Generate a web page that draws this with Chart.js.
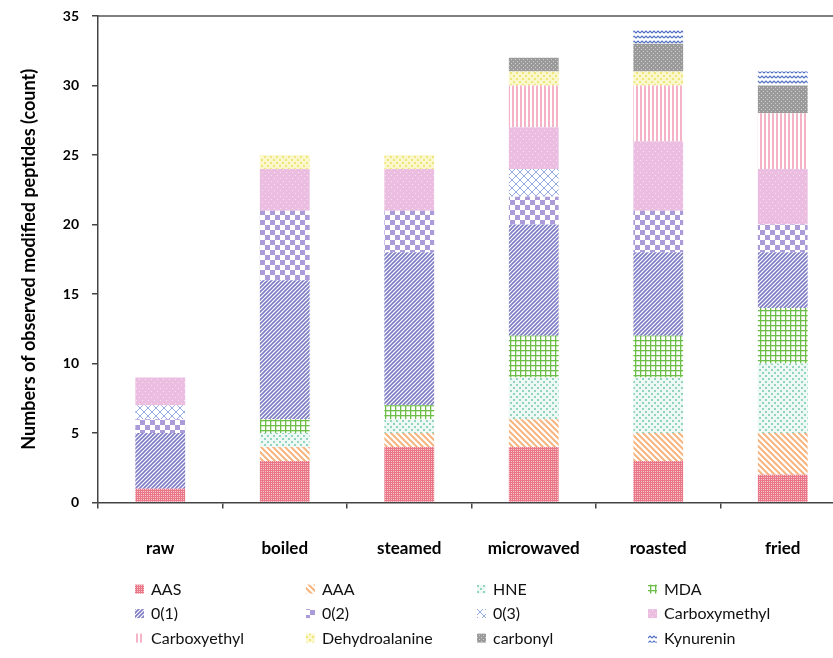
<!DOCTYPE html>
<html>
<head>
<meta charset="utf-8">
<script src="https://cdn.jsdelivr.net/npm/chart.js@4"></script>
<style>
  html, body { margin: 0; padding: 0; background: #fff; overflow: hidden; }
  #wrap { width: 833px; height: 658px; overflow: hidden; }
</style>
</head>
<body>
<div id="wrap"><canvas id="chart" width="845" height="658"></canvas></div>
<script>
const categories = ['raw', 'boiled', 'steamed', 'microwaved', 'roasted', 'fried']

const seriesNames = ['AAS', 'AAA', 'HNE', 'MDA', '0(1)', '0(2)', '0(3)', 'Carboxymethyl',
  'Carboxyethyl', 'Dehydroalanine', 'carbonyl', 'Kynurenin']

const aas = [1, 3, 4, 4, 3, 2]
const aaa = [0, 1, 1, 2, 2, 3]
const hne = [0, 1, 1, 3, 4, 5]
const mda = [0, 1, 1, 3, 3, 4]
const o1 = [4, 10, 11, 8, 6, 4]
const o2 = [1, 5, 3, 2, 3, 2]
const o3 = [1, 0, 0, 2, 0, 0]
const carboxymethyl = [2, 3, 3, 3, 5, 4]
const carboxyethyl = [0, 0, 0, 3, 4, 4]
const dehydroalanine = [0, 1, 1, 1, 1, 0]
const carbonyl = [0, 0, 0, 1, 2, 2]
const kynurenin = [0, 0, 0, 0, 1, 1]

const seriesValues = [aas, aaa, hne, mda, o1, o2, o3, carboxymethyl,
  carboxyethyl, dehydroalanine, carbonyl, kynurenin]

const yTicks = [0, 5, 10, 15, 20, 25, 30, 35]

const FONT = 'Lato, "Liberation Sans", sans-serif'

// small tiles used as bar fills
function tile(w, h, draw) {
  const c = document.createElement('canvas')
  c.width = w
  c.height = h
  const g = c.getContext('2d')
  draw(g, w, h)
  return g.createPattern(c, 'repeat')
}

function dots(g, color, pts) {
  g.fillStyle = color
  pts.forEach(p => g.fillRect(p[0], p[1], p[2] || 1, p[3] || 1))
}

const patterns = [
  // AAS
  tile(4, 4, (g) => {
    g.fillStyle = '#ea7787'; g.fillRect(0, 0, 4, 4)
    dots(g, '#f7c4cc', [[1, 1], [3, 3], [3, 1], [1, 3]])
  }),
  // AAA
  tile(6, 6, (g) => {
    g.fillStyle = '#fff'; g.fillRect(0, 0, 6, 6)
    g.strokeStyle = '#f6b47f'; g.lineWidth = 2
    g.beginPath()
    g.moveTo(-1, -1); g.lineTo(7, 7)
    g.moveTo(-4, 2); g.lineTo(4, 10)
    g.moveTo(2, -4); g.lineTo(10, 4)
    g.stroke()
  }),
  // HNE
  tile(6, 6, (g) => {
    g.fillStyle = '#eef8f4'; g.fillRect(0, 0, 6, 6)
    dots(g, '#93d4bf', [[0, 0, 2, 2], [3, 3, 2, 2]])
  }),
  // MDA
  tile(5, 5, (g) => {
    g.fillStyle = '#fff'; g.fillRect(0, 0, 5, 5)
    g.fillStyle = '#6dbd49'
    g.fillRect(0, 0, 5, 1.3)
    g.fillRect(0, 0, 1.3, 5)
  }),
  // 0(1)
  tile(4, 4, (g) => {
    g.fillStyle = '#fff'; g.fillRect(0, 0, 4, 4)
    g.strokeStyle = '#7d7bc4'; g.lineWidth = 1.6
    g.beginPath()
    g.moveTo(-1, 5); g.lineTo(5, -1)
    g.moveTo(-1, 1); g.lineTo(1, -1)
    g.moveTo(3, 5); g.lineTo(5, 3)
    g.stroke()
  }),
  // 0(2)
  tile(10, 10, (g) => {
    g.fillStyle = '#fff'; g.fillRect(0, 0, 10, 10)
    g.fillStyle = '#ab9bd9'
    g.fillRect(0, 0, 5, 5); g.fillRect(5, 5, 5, 5)
  }),
  // 0(3)
  tile(8, 8, (g) => {
    g.fillStyle = '#fff'; g.fillRect(0, 0, 8, 8)
    g.strokeStyle = '#97acdc'; g.lineWidth = 1
    g.beginPath()
    g.moveTo(0, 4); g.lineTo(4, 0); g.lineTo(8, 4); g.lineTo(4, 8); g.closePath()
    g.stroke()
  }),
  // Carboxymethyl
  tile(6, 6, (g) => {
    g.fillStyle = '#ebbde0'; g.fillRect(0, 0, 6, 6)
    dots(g, '#f6e2f1', [[1, 1], [4, 4]])
  }),
  // Carboxyethyl
  tile(4, 4, (g) => {
    g.fillStyle = '#fff'; g.fillRect(0, 0, 4, 4)
    g.fillStyle = '#f5b3c8'; g.fillRect(0, 0, 2, 4)
  }),
  // Dehydroalanine
  tile(6, 6, (g) => {
    g.fillStyle = '#fbf7cc'; g.fillRect(0, 0, 6, 6)
    dots(g, '#f0e579', [[0, 0, 2, 2], [3, 3, 2, 2]])
  }),
  // carbonyl
  tile(4, 4, (g) => {
    g.fillStyle = '#9a9a9a'; g.fillRect(0, 0, 4, 4)
    dots(g, '#cfcfcf', [[1, 1], [3, 3]])
  }),
  // Kynurenin
  tile(8, 5, (g) => {
    g.fillStyle = '#fff'; g.fillRect(0, 0, 8, 5)
    g.strokeStyle = '#4f6fc2'; g.lineWidth = 1.2
    g.beginPath()
    g.moveTo(0, 3); g.lineTo(2, 1); g.lineTo(4, 3); g.lineTo(6, 1); g.lineTo(8, 3)
    g.stroke()
  }),
]

const datasets = seriesNames.map((name, i) => ({
  label: name,
  data: seriesValues[i],
  backgroundColor: patterns[i],
  borderWidth: 0,
  barPercentage: 0.4,
  categoryPercentage: 1
}))

// top frame line + legend in 4 columns
const extras = {
  id: 'extras',
  afterDraw(chart) {
    const {ctx, chartArea} = chart
    ctx.save()
    ctx.strokeStyle = '#555'
    ctx.lineWidth = 1.5
    ctx.beginPath()
    ctx.moveTo(chartArea.left, chartArea.top)
    ctx.lineTo(chart.width, chartArea.top)
    ctx.stroke()

    ctx.font = '16px ' + FONT
    ctx.textBaseline = 'middle'
    const x0 = chartArea.left + 37
    const y0 = chartArea.bottom + 87
    chart.data.datasets.forEach((ds, i) => {
      const col = i % 4
      const row = Math.floor(i / 4)
      const x = x0 + col * 171
      const y = y0 + row * 24.5
      ctx.fillStyle = ds.backgroundColor
      ctx.fillRect(x, y - 5, 9, 9)
      ctx.fillStyle = '#111'
      ctx.fillText(ds.label, x + 16, y)
    })
    ctx.restore()
  }
}

new Chart(document.getElementById('chart'), {
  type: 'bar',
  data: { labels: categories, datasets },
  plugins: [extras],
  options: {
    responsive: false,
    animation: false,
    devicePixelRatio: 1,
    layout: { padding: { top: 16, right: 0, bottom: 69, left: 0 } },
    plugins: {
      legend: { display: false },
      tooltip: { enabled: false }
    },
    scales: {
      x: {
        stacked: true,
        grid: {
          offset: true,
          drawOnChartArea: false,
          drawTicks: true,
          tickLength: 6,
          color: '#444',
          lineWidth: 1.5
        },
        border: { color: '#444', width: 1.5 },
        ticks: {
          color: '#000',
          padding: 30,
          font: { family: FONT, size: 17, weight: 'bold' }
        }
      },
      y: {
        stacked: true,
        min: 0,
        max: 35,
        afterFit(scale) {
          scale.width = 98
          scale.paddingTop = 0
          scale.paddingBottom = 0
        },
        afterBuildTicks(scale) { scale.ticks = yTicks.map(v => ({ value: v })) },
        grid: {
          drawOnChartArea: false,
          drawTicks: true,
          tickLength: 6,
          color: '#444',
          lineWidth: 1.5
        },
        border: { color: '#444', width: 1.5 },
        ticks: {
          color: '#000',
          padding: 13,
          font: { family: FONT, size: 14, weight: 'bold' }
        },
        title: {
          display: true,
          text: 'Numbers of observed modified peptides (count)',
          color: '#000',
          padding: { top: 18, bottom: 0 },
          font: { family: FONT, size: 18, weight: 'bold' }
        }
      }
    }
  }
})
</script>
</body>
</html>
